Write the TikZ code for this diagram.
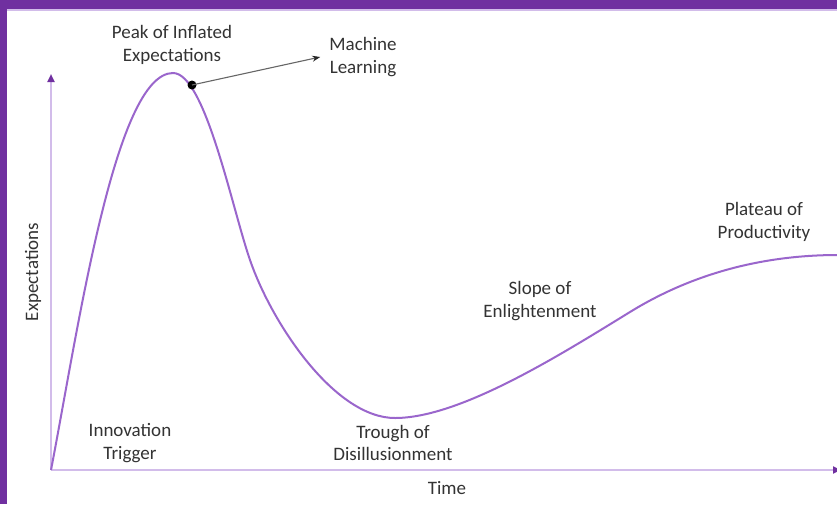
\documentclass[tikz,border=0pt]{standalone}
\usepackage{fontspec}
\setmainfont{Carlito}
\usetikzlibrary{arrows.meta}
\definecolor{bandpurple}{HTML}{7030A0}
\definecolor{axispurple}{HTML}{D2BCEA}
\definecolor{curvepurple}{HTML}{9A66CC}
\definecolor{tippurple}{HTML}{7030A0}
\definecolor{txt}{HTML}{333333}
\tikzset{
  lbl/.style={text=txt, font=\fontsize{19}{22.5}\selectfont, align=center, inner sep=0pt},
  axisline/.style={draw=axispurple, line width=2pt},
  hype/.style={draw=curvepurple, line width=2pt},
  pointer/.style={draw=gray!80!black, line width=1.1pt, -{Stealth[length=8pt,width=6pt,color=black!85]}},
  bigdot/.style={circle, fill=black, inner sep=0pt, minimum size=9pt}
}
\begin{document}
\begin{tikzpicture}[x=1pt,y=-1pt]
\useasboundingbox (0,0) rectangle (837,504);
\fill[white] (0,0) rectangle (837,504);
% frame bands
\fill[bandpurple] (0,0) rectangle (837,9);
\fill[axispurple] (0,9) rectangle (837,10.5);
\fill[bandpurple] (0,0) rectangle (7,504);
% axes
\coordinate (o) at (51,470);
\coordinate (ytop) at (51,74);
\coordinate (xend) at (841,470);
\draw[axisline, -{Triangle[length=8pt,width=7pt,color=tippurple]}] (o) -- (ytop);
\draw[axisline, -{Triangle[length=8pt,width=7pt,color=tippurple]}] (o) -- (xend);
% hype curve
\draw[hype] (o) .. controls (78,330) and (115,73) .. (173,73)
  .. controls (205,73) and (232,208) .. (250,260)
  .. controls (272,324) and (335,418) .. (395,418)
  .. controls (460,418) and (560,355) .. (630,312)
  .. controls (690,275) and (760,255) .. (838,255);
% labels
\node[lbl] (peak) at (172,45) {Peak of Inflated\\Expectations};
\node[lbl] (ml) at (363,57) {Machine\\Learning};
\node[lbl] (trig) at (130,443) {Innovation\\Trigger};
\node[lbl] (trough) at (393,443) {Trough of\\Disillusionment};
\node[lbl] (slope) at (540,301) {Slope of\\Enlightenment};
\node[lbl] (plat) at (764,222) {Plateau of\\Productivity};
\node[lbl] (time) at (447,488) {Time};
\node[lbl, rotate=90] (expy) at (33,272) {Expectations};
% pointer
\node[bigdot] (dot) at (192,85) {};
\draw[pointer] (dot.center) -- ([xshift=-9pt]ml.west);
\end{tikzpicture}
\end{document}
